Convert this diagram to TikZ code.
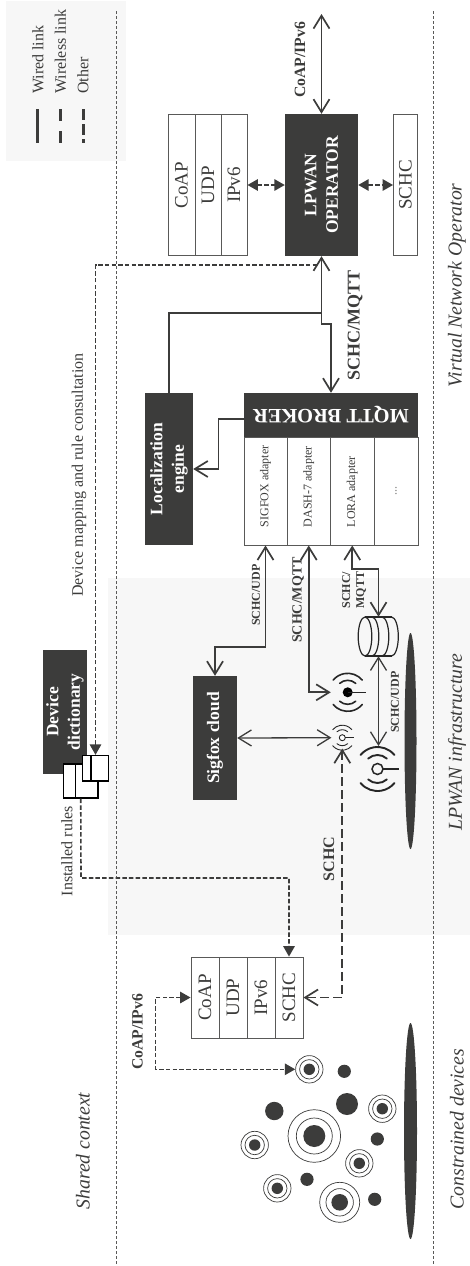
\documentclass[tikz,border=0pt]{standalone}
\usepackage{fontspec}
\setmainfont{Liberation Serif}
\usetikzlibrary{arrows.meta,calc}
\definecolor{ink}{HTML}{3C3C3B}
\definecolor{bandgray}{HTML}{F7F7F7}
\newcommand{\fs}[1]{\fontsize{#1}{#1}\selectfont}
\newcommand{\ringnode}[6]{%
  \node[ringc,minimum size=#3*2pt] (#1) at (#2) {};
  \node[ringc,minimum size=#4*2pt] at (#2) {};
  \node[dotc,minimum size=#5*2pt] at (#2) {};}
\newcommand{\waves}[4]{% centre, outer R, inner R, line width
  \foreach \R/\a in {#2/50,#3/42}{
    \draw[line width=#4,line cap=round,black!85] ($(#1)+(90-\a:\R pt)$) arc[start angle=90-\a,end angle=90+\a,radius=\R pt];
    \draw[line width=#4,line cap=round,black!85] ($(#1)+(270-\a:\R pt)$) arc[start angle=270-\a,end angle=270+\a,radius=\R pt];
  }}
\tikzset{
  barb/.tip={Straight Barb[length=13pt,width=16pt]},
  tri/.tip={Triangle[length=10.5pt,width=11.5pt]},
  wired/.style={draw=ink,line width=1.7pt},
  wireless/.style={draw=ink,line width=1.7pt,dash pattern=on 9pt off 4pt},
  other/.style={draw=ink,line width=1.6pt,dash pattern=on 4.5pt off 2.2pt},
  sepline/.style={draw=ink!85,line width=0.7pt,dash pattern=on 3pt off 2pt},
  dark/.style={fill=ink,text=white,font=\bfseries\fontsize{17.5}{21.5}\selectfont,rotate=90,align=center,inner sep=0pt},
  cell/.style={draw=ink!85,line width=0.9pt,fill=white,text=ink,rotate=90,inner sep=0pt,font=\fs{19}},
  adapter/.style={draw=ink!85,line width=0.9pt,fill=white,text=ink,rotate=90,inner sep=0pt,font=\fs{12},minimum width=108pt},
  lab/.style={text=ink,rotate=90,inner sep=0pt,font=\fs{16}},
  blab/.style={text=ink,rotate=90,inner sep=0pt,align=center,font=\bfseries\fontsize{12}{14}\selectfont},
  capt/.style={text=ink,rotate=90,inner sep=0pt,font=\itshape\fs{19.7}},
  ringc/.style={circle,draw=ink,line width=0.7pt,fill=white,inner sep=0pt},
  dotc/.style={circle,fill=ink,inner sep=0pt},
  doc/.style={draw=black,line width=1.3pt,fill=white,inner sep=0pt},
  port/.style={circle,inner sep=0pt},
}
\begin{document}
\begin{tikzpicture}[x=1pt,y=-1pt]
\useasboundingbox (0,0) rectangle (470,1266);
% backgrounds
\fill[bandgray] (6,1) rectangle (126,161);
\fill[bandgray] (108,578) rectangle (470,935);
\draw[sepline] (116,11) -- (116,1264);
\draw[sepline] (433.5,11) -- (433.5,1264);
% legend
\draw[ink,line width=3pt] (37.3,109) -- (37.3,143);
\draw[ink,line width=3pt,dash pattern=on 12pt off 10pt] (60.5,109) -- (60.5,143);
\draw[ink,line width=3pt,dash pattern=on 11pt off 4pt] (83.3,109) -- (83.3,143);
\node[lab,anchor=west] (lw) at (38,94) {Wired link};
\node[lab,anchor=west] (ll) at (60.5,94) {Wireless link};
\node[lab,anchor=west] (lo) at (83,94) {Other};
% captions
\node[capt] (c1) at (83,1151) {Shared context};
\node[capt] (c2) at (457,1129) {Constrained devices};
\node[capt] (c3) at (457,742) {LPWAN infrastructure};
\node[capt] (c4) at (457,285.5) {Virtual Network Operator};
% operator side
\node[cell,minimum width=141pt,minimum height=27pt] (tc) at (181.5,185) {CoAP};
\node[cell,minimum width=141pt,minimum height=26pt] (tu) at (208,185) {UDP};
\node[cell,minimum width=141pt,minimum height=26pt] (ti) at (234,185) {IPv6};
\node[dark,minimum width=142pt,minimum height=73pt] (op) at (321.5,185) {LPWAN\\OPERATOR};
\node[cell,minimum width=141pt,minimum height=24pt] (ts) at (405.5,185) {SCHC};
\coordinate (net) at (321.5,14);
\draw[wired,{barb}-{barb}] (net) -- (op.east);
\node[blab,font=\bfseries\fs{15.7}] (l1) at (300,60) {CoAP/IPv6};
\draw[other,{tri}-{tri}] (ti.south) -- (op.north);
\draw[other,{tri}-{tri}] (op.south) -- (ts.north);
% localization and broker
\node[dark,minimum width=152pt,minimum height=48pt] (loc) at (169,469) {Localization\\engine};
\node[dark,rotate=90,minimum width=174pt,minimum height=44pt,font=\bfseries\fs{20.4}] (brk) at (331,415) {MQTT BROKER};
\node[adapter,minimum height=43pt] (a1) at (265.5,491) {\makebox[72pt][l]{SIGFOX adapter}};
\node[adapter,minimum height=43.5pt] (a2) at (308.75,491) {\makebox[72pt][l]{DASH-7 adapter}};
\node[adapter,minimum height=43.5pt] (a3) at (352.25,491) {\makebox[72pt][l]{LORA adapter}};
\node[adapter,minimum height=44pt,text=ink!70] (a4) at (396,491) {...};
\coordinate (j1) at (321.5,324);
\coordinate (j2) at (331,324);
\draw[wired,{barb}-{barb}] (op.west) -- (j1) -- (j2) -- (brk.south);
\coordinate (j3) at (321.5,313);
\draw[wired] (loc.east) |- (j3);
\node[blab,font=\bfseries\fs{18}] (l2) at (355,325) {SCHC/MQTT};
\coordinate (b1) at (244,419);
\coordinate (b2) at (218.5,419);
\draw[wired,-{barb}] (b1) -- (b2) |- (loc.south);
% LPWAN infrastructure
\node[dark,minimum width=124pt,minimum height=44pt] (sig) at (215,738) {Sigfox cloud};
\node[port,minimum size=33.4pt] (an1) at (347.7,692.3) {};
\node[port,minimum size=21.4pt] (an2) at (342.3,737.7) {};
\node[port,minimum size=46pt] (an3) at (377.5,769) {};
\node[port,minimum width=40pt,minimum height=39pt,shape=rectangle] (db) at (378.5,636.5) {};
\coordinate (s1) at (265.5,647);
\coordinate (s2) at (215,647);
\draw[wired,{barb}-{barb}] (a1.west) -- (s1) -- (s2) -- (sig.east);
\node[blab] (l3) at (256,595) {SCHC/UDP};
\coordinate (d1) at (308.75,692.3);
\draw[wired,{barb}-{barb}] (a2.west) -- (d1) -- (an1.west);
\node[blab,font=\bfseries\fs{14}] (l4) at (298,600) {SCHC/MQTT};
\coordinate (r1) at (352.25,569);
\coordinate (r2) at (378.5,569);
\draw[wired,{barb}-{barb}] (a3.west) -- (r1) -- (r2) -- (db.north);
\node[blab] (l5) at (354,590) {SCHC/\\MQTT};
\coordinate (g1) at (378.5,746);
\draw[wired,line width=1.3pt,{barb}-{barb}] (db.south) -- (g1);
\node[blab] (l6) at (395,702) {SCHC/UDP};
\draw[wired,line width=1.3pt,{barb}-{barb}] (sig.south) -- (an2.west);
% database
\draw[black!85,line width=1.2pt] (365,617) -- (391.5,617) (365,656) -- (391.5,656);
\draw[black!85,line width=1.2pt] (365,636.5) ellipse[x radius=6.8pt,y radius=19.5pt];
\foreach \cx in {372,382,391.5}
  \draw[black!85,line width=1.2pt] (\cx,617) arc[start angle=90,end angle=-90,x radius=6.8pt,y radius=19.5pt];
% antennas
\fill[black] (an1.center) circle[radius=5pt];
\draw[black!85,line width=1.5pt] (an1.center) -- ++(18,0);
\waves{an1}{19}{12}{1.6pt}
\draw[black!85,line width=0.9pt,fill=white] (an2.center) circle[radius=3pt];
\draw[black!85,line width=0.9pt] (an2.center)++(3,0) -- ++(8.5,0);
\waves{an2}{12.5}{8}{0.9pt}
\draw[black!85,line width=1.5pt] (an3.center)++(5.5,0) -- ++(16,0);
\draw[black!85,line width=1.5pt] (an3.center) circle[radius=5.5pt];
\waves{an3}{22}{14}{1.9pt}
% ground ellipses
\fill[ink] (410.5,741) ellipse[x radius=6pt,y radius=108pt];
\fill[ink] (410.5,1131) ellipse[x radius=6.5pt,y radius=108pt];
% dictionary
\node[dark,minimum width=124pt,minimum height=44pt] (dict) at (65,712) {Device\\dictionary};
\node[doc,minimum width=34.5pt,minimum height=34pt] (da) at (80.75,781) {};
\coordinate (da1) at (75.5,764);
\draw[black,line width=1.3pt] (da1) -- (75.5,798);
\node[doc,minimum width=26pt,minimum height=25.5pt] (db2) at (95.5,768.25) {};
\draw[black,line width=1.3pt] (91,755.5) -- (91,781);
\node[lab] (l7) at (67,851) {Installed rules};
\node[lab] (l8) at (79,475) {Device mapping and rule consultation};
\coordinate (m1) at (95.5,265);
\coordinate (m2) at (317,265);
\draw[other,{tri}-] (db2.north) -- (m1) -- (m2);
% constrained side
\node[cell,minimum width=81pt,minimum height=28pt] (sc) at (205,997.5) {CoAP};
\node[cell,minimum width=81pt,minimum height=28pt] (su) at (233,997.5) {UDP};
\node[cell,minimum width=81pt,minimum height=28pt] (si) at (261,997.5) {IPv6};
\node[cell,minimum width=81pt,minimum height=28pt] (ss) at (289,997.5) {SCHC};
\coordinate (i1) at (81,878);
\coordinate (i2) at (289,878);
\draw[other,-{tri}] (da.south) -- (i1) -- (i2) -- (ss.east);
\coordinate (w1) at (342.3,997.5);
\draw[wireless,{barb}-{barb}] (an2.south) -- (w1) -- (ss.south);
\node[blab,font=\bfseries\fs{16}] (l9) at (329,859) {SCHC};
% devices
\ringnode{dv1}{309.3,1069.3}{13.7}{9.7}{5.7}{}
\ringnode{dv2}{382.3,1108.7}{13.7}{9.7}{5.7}{}
\ringnode{dv3}{314.3,1136}{26.3}{18}{11}{}
\ringnode{dv4}{254.7,1145}{13.7}{9.7}{5.7}{}
\ringnode{dv5}{359.3,1163.3}{13.7}{9.7}{5.7}{}
\ringnode{dv6}{277.3,1188.3}{13.7}{9.7}{5.7}{}
\ringnode{dv7}{339.7,1202.3}{20}{13.7}{8.3}{}
\node[dotc,minimum size=13.2pt] (p1) at (344.3,1071.3) {};
\node[dotc,minimum size=22pt] (p2) at (347,1104) {};
\node[dotc,minimum size=18.4pt] (p3) at (274.3,1111) {};
\node[dotc,minimum size=13.2pt] (p4) at (377.3,1139) {};
\node[dotc,minimum size=13.2pt] (p5) at (307,1179.3) {};
\node[dotc,minimum size=13.2pt] (p6) at (374.7,1199.3) {};
\coordinate (q1) at (155.5,997.5);
\coordinate (q2) at (155.5,1069.3);
\draw[other,{tri}-{tri}] (sc.north) -- (q1) -- (q2) -- (dv1.west);
\node[blab,font=\bfseries\fs{15.7}] (l10) at (137.5,1032) {CoAP/IPv6};
\end{tikzpicture}
\end{document}
